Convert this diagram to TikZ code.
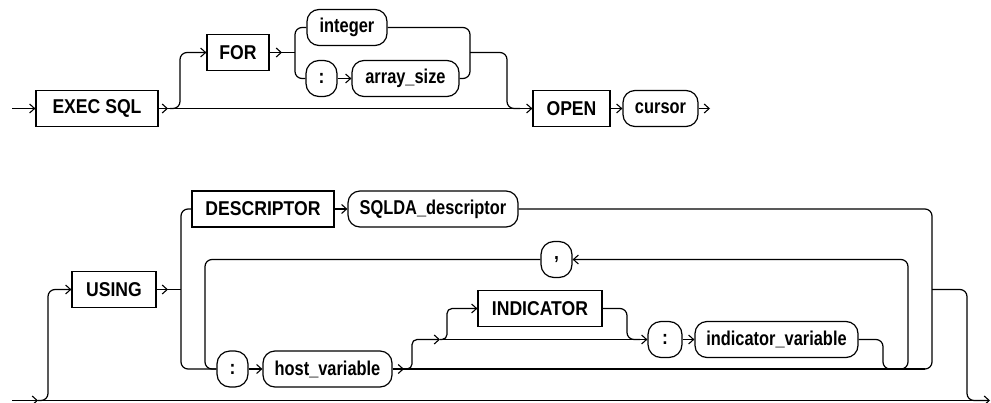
\documentclass[tikz,border=0pt]{standalone}
\usepackage{fontspec}
\setmainfont{Liberation Sans}
\newfontfamily\capsface{Liberation Sans}[FakeStretch=0.88]
\newfontfamily\lowface{Liberation Sans}[FakeStretch=0.82]
\usetikzlibrary{arrows.meta}
\begin{document}
\begin{tikzpicture}[x=1pt,y=-1pt, line width=1.2pt,
  arr/.style={-{Straight Barb[length=5pt,width=9pt,line width=1.1pt]}},
  rc/.style={rounded corners=7pt},
  kw/.style={draw, rectangle, minimum height=36pt, inner sep=0pt,
    font=\capsface\bfseries\fontsize{20}{20}\selectfont},
  var/.style={draw, rounded corners=12pt, minimum height=36pt, inner sep=0pt,
    font=\lowface\bfseries\fontsize{20}{20}\selectfont},
  sym/.style={draw, rounded corners=13pt, minimum width=31pt, minimum height=36pt, inner sep=0pt,
    font=\capsface\bfseries\fontsize{20}{20}\selectfont}]
\useasboundingbox (0,0) rectangle (991,402);

% ---------- top diagram ----------
\node[kw, minimum width=122pt] (exec) at (97,108.5) {EXEC SQL};
\node[kw, minimum width=62pt]  (for)  at (238,52.5) {FOR};
\node[var, minimum width=80pt] (int)  at (347,27.5) {integer};
\node[sym] (c1) at (321.5,78.5) {:};
\node[var, minimum width=107pt] (asz) at (405.5,78.5) {array\_size};
\node[kw, minimum width=77pt]  (open) at (571.5,108.5) {OPEN};
\node[var, minimum width=75pt] (cur)  at (660.5,108.5) {cursor};

\coordinate (s0) at (12,108.5);
\coordinate (t1) at (168,108.5);
\coordinate (t2) at (170,108.5);
\coordinate (t3) at (282,52.5);
\coordinate (t4) at (295,52.5);
\coordinate (t5) at (470,52.5);
\coordinate (t6) at (710,108.5);

\draw[arr] (s0) -- (exec.west);
\draw[arr] (exec.east) -- (t1);
\draw[arr] (exec.east) -- (open.west);
\draw[rc,arr] (t2) -- (180,108.5) -- (180,52.5) -- (for.west);
\draw[arr] (for.east) -- (t3);
\draw (for.east) -- (t4);
\draw[rc] (int.west) -| (t4) |- (c1.west);
\draw[arr] (c1.east) -- (asz.west);
\draw[rc] (int.east) -| (t5) |- (asz.east);
\draw[rc] (t5) -- (507,52.5) -- (507,108.5) -- (520,108.5);
\draw[arr] (open.east) -- (cur.west);
\draw[arr] (cur.east) -- (t6);

% ---------- bottom diagram ----------
\node[kw, minimum width=84pt]  (using) at (114,289.5) {USING};
\node[kw, minimum width=142pt] (desc)  at (263,209) {DESCRIPTOR};
\node[var, minimum width=170pt] (sqlda) at (433,209) {SQLDA\_descriptor};
\node[sym] (comma) at (556.5,259.5) {,};
\node[sym] (c2) at (232.5,369) {:};
\node[var, minimum width=129pt] (host) at (327.5,369) {host\_variable};
\node[kw, minimum width=124pt] (ind) at (540,308.5) {INDICATOR};
\node[sym, minimum width=34pt] (c3) at (665,339.5) {:};
\node[var, minimum width=163pt] (iv) at (776.5,339.5) {indicator\_variable};

\coordinate (b0) at (12,400.5);
\coordinate (b1) at (38,400.5);
\coordinate (b2) at (985,400.5);
\coordinate (b3) at (990,400.5);
\coordinate (u1) at (168,289.5);
\coordinate (u2) at (181,289.5);
\coordinate (r1) at (932,289.5);
\coordinate (h1) at (404,369);
\coordinate (h2) at (925,369);
\coordinate (k1) at (440,339.5);

\draw (b0) -- (b2);
\draw[arr] (b0) -- (b1);
\draw[rc,arr] (b1) -- (48,400.5) -- (48,289.5) -- (using.west);
\draw[arr] (using.east) -- (u1);
\draw (using.east) -- (u2);
\draw[rc] (desc.west) -| (u2) |- (c2.west);
\draw[arr] (desc.east) -- (sqlda.west);
\draw[rc] (sqlda.east) -| (r1) |- (905,369);
\draw[rc,arr] (r1) -- (967,289.5) -- (967,400.5) -- (b3);
\draw[rc] (comma.west) -| (205,369) -- (c2.west);
\draw[rc,arr] (895,369) -- (908,369) -- (908,259.5) -- (comma.east);
\draw[arr] (c2.east) -- (host.west);
\draw[arr] (host.east) -- (h1);
\draw (host.east) -- (h2);
\draw[rounded corners=5pt,arr] (h1) -- (412,369) -- (412,339.5) -- (k1);
\draw[arr] (k1) -- (c3.west);
\draw[rounded corners=5pt,arr] (k1) -- (447,339.5) -- (447,308.5) -- (ind.west);
\draw[rc] (ind.east) -- (627,308.5) -- (627,339.5) -- (640,339.5);
\draw[arr] (c3.east) -- (iv.west);
\draw[rc] (iv.east) -- (883,339.5) -- (883,369) -- (895,369);
\end{tikzpicture}
\end{document}
